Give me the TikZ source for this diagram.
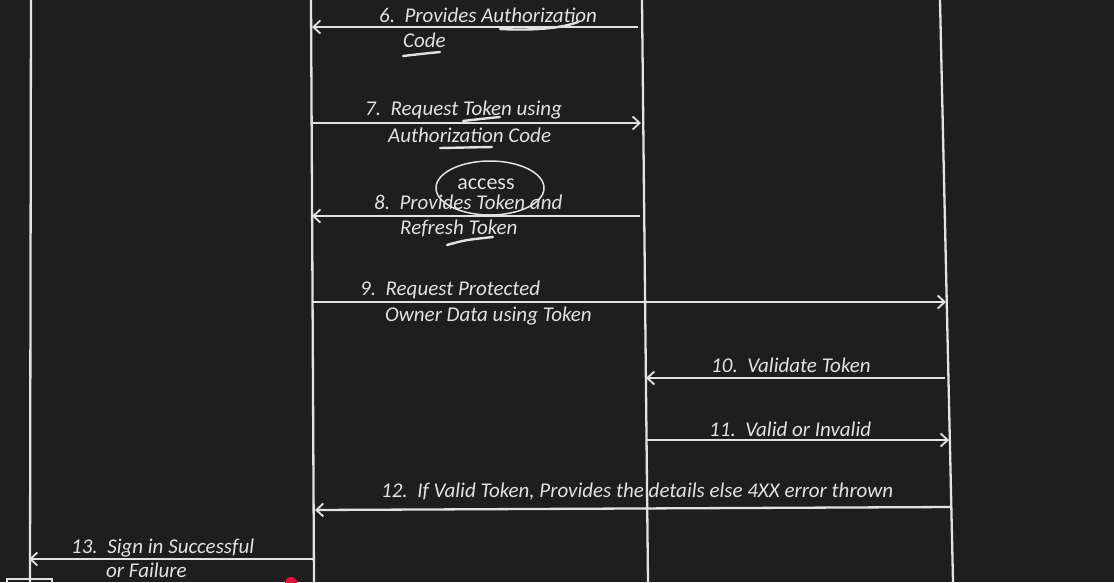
\documentclass[tikz,border=0pt]{standalone}
\usepackage{fontspec}
\setmainfont{Carlito}
\usetikzlibrary{arrows.meta}
\definecolor{board}{HTML}{1E1E1E}
\definecolor{chalk}{HTML}{E2E2E2}
\definecolor{pointer}{HTML}{E8103A}

\begin{document}
\begin{tikzpicture}[x=1pt,y=-1pt,
  life/.style={draw=chalk,line width=2.3pt},
  msg/.style={draw=chalk,line width=2.3pt,-{Straight Barb[length=7pt,width=13pt,line width=1.8pt]}},
  lbl/.style={text=chalk,anchor=west,inner sep=0pt,font=\fontsize{21}{22}\selectfont\itshape},
  scribble/.style={draw=chalk,line width=2.4pt,line cap=round}]
\fill[board] (0,0) rectangle (1114,582);
\useasboundingbox (0,0) rectangle (1114,582);
\clip (0,0) rectangle (1114,582);

% lifelines
\coordinate (u1) at (31,0);  \coordinate (d1) at (30,582);
\coordinate (u2) at (311,0); \coordinate (d2) at (314,582);
\coordinate (u3) at (642,0); \coordinate (d3) at (648,582);
\coordinate (u4) at (940,0); \coordinate (d4) at (953,582);
\draw[life] (u1) -- (d1);
\draw[life] (u2) -- (d2);
\draw[life] (u3) -- (d3);
\draw[life] (u4) -- (d4);

% 6
\coordinate (s6) at (638,27); \coordinate (e6) at (312,27);
\draw[msg] (s6) -- (e6);
\node[lbl] (t6) at (379,15) {6.\ \ Provides Authorization};
\node[lbl] (t6b) at (403,40) {Code};

% 7
\coordinate (s7) at (312,123); \coordinate (e7) at (641,123);
\draw[msg] (s7) -- (e7);
\node[lbl] (t7) at (365,110) {7.\ \ Request Token using};
\node[lbl] (t7b) at (388,135) {Authorization Code};

% 8
\coordinate (s8) at (640,216); \coordinate (e8) at (312,216);
\draw[msg] (s8) -- (e8);
\node[lbl] (t8) at (374,202) {8.\ \ Provides Token and};
\node[lbl] (t8b) at (400,228) {Refresh Token};
\node[text=chalk,inner sep=0pt,font=\fontsize{22}{22}\selectfont] (acc) at (486,184) {access};
\draw[scribble,line width=1.5pt] (acc.center) ++(4,4) ellipse (54 and 27);

% 9
\coordinate (s9) at (313,302); \coordinate (e9) at (946,302);
\draw[msg] (s9) -- (e9);
\node[lbl] (t9) at (360,290) {9.\ \ Request Protected};
\node[lbl] (t9b) at (385,316) {Owner Data using Token};

% 10
\coordinate (s10) at (945,378); \coordinate (e10) at (646,378);
\draw[msg] (s10) -- (e10);
\node[lbl] (t10) at (711,365) {10.\ \ Validate Token};

% 11
\coordinate (s11) at (647,440); \coordinate (e11) at (949,440);
\draw[msg] (s11) -- (e11);
\node[lbl] (t11) at (709,429) {11.\ \ Valid or Invalid};

% 12
\coordinate (s12) at (951,507); \coordinate (e12) at (315,510);
\draw[msg] (s12) -- (e12);
\node[lbl] (t12) at (381,492) {12.\ \ If Valid Token, Provides the details else 4XX error thrown};

% 13
\coordinate (s13) at (314,559); \coordinate (e13) at (29,559);
\draw[msg] (s13) -- (e13);
\node[lbl] (t13) at (71,548) {13.\ \ Sign in Successful};
\node[lbl] (t13b) at (106,570) {or Failure};

% pen marks
\draw[scribble] (500,29) .. controls (540,31) and (565,27) .. (578,22);
\draw[scribble] (403,56) .. controls (420,54) and (430,53) .. (440,52);
\draw[scribble] (463,121) .. controls (480,119) .. (500,117);
\draw[scribble] (440,148) -- (492,147);
\draw[scribble] (447,245) .. controls (465,240) .. (493,237);

% bottom corner
\draw[chalk,line width=1.5pt] (7,590) rectangle (52,579);
\fill[pointer] (291,583) circle (6);
\end{tikzpicture}
\end{document}
